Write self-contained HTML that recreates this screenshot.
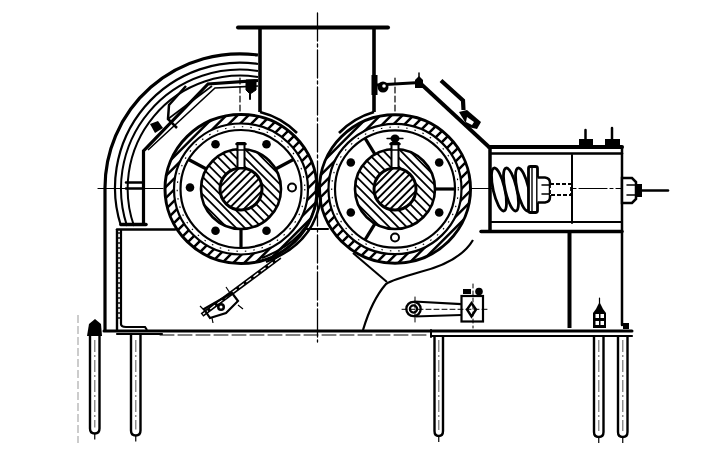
<!DOCTYPE html>
<html><head><meta charset="utf-8">
<style>
html,body{margin:0;padding:0;background:#fff;}
body{width:724px;height:472px;overflow:hidden;font-family:"Liberation Sans",sans-serif;}
svg{display:block;}
</style></head>
<body>
<svg width="724" height="472" viewBox="0 0 724 472">
<g stroke="#000" fill="none">
<g stroke="#000" fill="none">
<line x1="98" y1="188.5" x2="622" y2="188.5" stroke-width="1.2" stroke-linecap="round" stroke-dasharray="28 3 3 3"/>
<line x1="317.5" y1="13" x2="317.5" y2="342" stroke-width="1.3" stroke-linecap="round" stroke-dasharray="28 3 3 3"/>
<line x1="238" y1="27.5" x2="388" y2="27.5" stroke-width="4" stroke-linecap="round"/>
<line x1="260" y1="28" x2="260" y2="112" stroke-width="3.6" stroke-linecap="butt"/>
<line x1="374" y1="28" x2="374" y2="112" stroke-width="3.6" stroke-linecap="butt"/>
<path d="M260 112 A79.5 79.5 0 0 1 297 133" stroke-width="2.6" fill="none" />
<path d="M374 112 A79.5 79.5 0 0 0 339 133" stroke-width="2.6" fill="none" />
<path d="M105 332 L105 189 A135 134 0 0 1 258 55" stroke-width="3.2" fill="none" />
<path d="M121 226 A125 125 0 0 1 258 64" stroke-width="2.2" fill="none" />
<path d="M127 226 A119 119 0 0 1 258 71" stroke-width="2.0" fill="none" />
<path d="M134 226 A113 113 0 0 1 258 77" stroke-width="2.0" fill="none" />
<path d="M117 229 L117 332" stroke-width="2.4" fill="none" />
<line x1="119" y1="232" x2="119" y2="322" stroke-width="1.4" stroke-dasharray="2 3"/>
<path d="M121 229 L121 324 Q121 327 126 327 L145 327 L147 330" stroke-width="2.2" fill="none" />
<line x1="117" y1="334" x2="162" y2="334" stroke-width="2.2" stroke-linecap="round"/>
<line x1="117" y1="229.5" x2="175" y2="229.5" stroke-width="2.5" stroke-linecap="round"/>
</g>
<ellipse cx="241" cy="189" rx="76" ry="74.5" fill="#fff" stroke="none"/>
<clipPath id="rla"><path clip-rule="evenodd" d="M165 189a76 74.5 0 1 0 152 0a76 74.5 0 1 0 -152 0ZM174 189a67 65.5 0 1 0 134 0a67 65.5 0 1 0 -134 0Z"/></clipPath>
<path clip-path="url(#rla)" d="M87.1 188.5L240.5 35.1M92.6 194L246 40.6M98.1 199.5L251.5 46.1M103.7 205L257 51.7M109.2 210.5L262.5 57.2M114.7 216L268 62.7M120.2 221.5L273.5 68.2M125.7 227.1L279.1 73.7M131.2 232.6L284.6 79.2M136.8 238.1L290.1 84.8M142.3 243.6L295.6 90.3M147.8 249.1L301.1 95.8M153.3 254.6L306.6 101.3M158.8 260.2L312.2 106.8M164.3 265.7L317.7 112.3M169.8 271.2L323.2 117.8M175.4 276.7L328.7 123.4M180.9 282.2L334.2 128.9M186.4 287.7L339.7 134.4M191.9 293.2L345.2 139.9M197.4 298.8L350.8 145.4M202.9 304.3L356.3 150.9M208.5 309.8L361.8 156.5M214 315.3L367.3 162M219.5 320.8L372.8 167.5M225 326.3L378.3 173M230.5 331.9L383.9 178.5M236 337.4L389.4 184M241.5 342.9L394.9 189.5" stroke-width="2.5" fill="none"/>
<ellipse cx="241" cy="189" rx="76" ry="74.5" fill="none" stroke-width="3"/>
<ellipse cx="241" cy="189" rx="67" ry="65.5" fill="none" stroke-width="2.2"/>
<ellipse cx="241" cy="189" rx="60.5" ry="59.0" fill="none" stroke-width="2.2"/>
<ellipse cx="241" cy="189" rx="63.8" ry="62.3" fill="none" stroke-width="1.1" stroke-dasharray="1.5 7"/>
<circle cx="241" cy="189" r="40" fill="#fff" stroke="none"/>
<clipPath id="rlh"><circle cx="241" cy="189" r="40"/></clipPath>
<path clip-path="url(#rlh)" d="M243.4 103.7L326.3 186.6M239 108.1L321.9 191M234.7 112.5L317.5 195.3M230.3 116.9L313.1 199.7M225.9 121.3L308.7 204.1M221.5 125.7L304.3 208.5M217.1 130L300 212.9M212.7 134.4L295.6 217.3M208.4 138.8L291.2 221.6M204 143.2L286.8 226M199.6 147.6L282.4 230.4M195.2 152L278 234.8M190.8 156.4L273.6 239.2M186.4 160.7L269.3 243.6M182 165.1L264.9 248M177.7 169.5L260.5 252.3M173.3 173.9L256.1 256.7M168.9 178.3L251.7 261.1M164.5 182.7L247.3 265.5M160.1 187L243 269.9M155.7 191.4L238.6 274.3" stroke-width="1.8" fill="none"/>
<circle cx="241" cy="189" r="40" fill="none" stroke-width="2.6"/>
<circle cx="241" cy="189" r="21" fill="#fff" stroke="none"/>
<clipPath id="rls"><circle cx="241" cy="189" r="21"/></clipPath>
<path clip-path="url(#rls)" d="M195.7 188.5L240.5 143.7M199.5 192.3L244.3 147.5M203.3 196.1L248.1 151.3M207.1 200L252 155.1M210.9 203.8L255.8 158.9M214.8 207.6L259.6 162.8M218.6 211.4L263.4 166.6M222.4 215.2L267.2 170.4M226.2 219.1L271.1 174.2M230 222.9L274.9 178M233.9 226.7L278.7 181.9M237.7 230.5L282.5 185.7M241.5 234.3L286.3 189.5" stroke-width="1.9" fill="none"/>
<circle cx="241" cy="189" r="21" fill="none" stroke-width="3"/>
<rect x="237.5" y="143" width="7" height="25" fill="#fff" stroke-width="2"/>
<line x1="236.5" y1="144" x2="245.5" y2="144" stroke-width="2.5" stroke-linecap="round"/>
<line x1="236.5" y1="150" x2="245.5" y2="150" stroke-width="1.5" stroke-linecap="round"/>
<circle cx="266.5" cy="144.2" r="4.3" fill="#000" stroke="none"/>
<circle cx="215.5" cy="144.2" r="4.3" fill="#000" stroke="none"/>
<circle cx="190" cy="187.5" r="4.3" fill="#000" stroke="none"/>
<circle cx="215.5" cy="230.8" r="4.3" fill="#000" stroke="none"/>
<circle cx="266.5" cy="230.8" r="4.3" fill="#000" stroke="none"/>
<circle cx="292" cy="187.5" r="4" fill="#fff" stroke-width="2"/>
<line x1="206.4" y1="169" x2="188.6" y2="159.5" stroke-width="3.2" stroke-linecap="butt"/>
<line x1="275.6" y1="169" x2="293.4" y2="159.5" stroke-width="3.2" stroke-linecap="butt"/>
<line x1="241" y1="229" x2="241" y2="248" stroke-width="3.2" stroke-linecap="butt"/>
<ellipse cx="395" cy="189" rx="75.5" ry="74.2" fill="#fff" stroke="none"/>
<clipPath id="rra"><path clip-rule="evenodd" d="M319.5 189a75.5 74.2 0 1 0 151 0a75.5 74.2 0 1 0 -151 0ZM328.5 189a66.5 65.2 0 1 0 133 0a66.5 65.2 0 1 0 -133 0Z"/></clipPath>
<path clip-path="url(#rra)" d="M241.5 188.1L394.1 35.5M247 193.6L399.6 41M252.5 199.1L405.1 46.5M258.1 204.6L410.6 52.1M263.6 210.1L416.1 57.6M269.1 215.6L421.6 63.1M274.6 221.1L427.1 68.6M280.1 226.7L432.7 74.1M285.6 232.2L438.2 79.6M291.2 237.7L443.7 85.2M296.7 243.2L449.2 90.7M302.2 248.7L454.7 96.2M307.7 254.2L460.2 101.7M313.2 259.8L465.8 107.2M318.7 265.3L471.3 112.7M324.2 270.8L476.8 118.2M329.8 276.3L482.3 123.8M335.3 281.8L487.8 129.3M340.8 287.3L493.3 134.8M346.3 292.8L498.8 140.3M351.8 298.4L504.4 145.8M357.3 303.9L509.9 151.3M362.9 309.4L515.4 156.9M368.4 314.9L520.9 162.4M373.9 320.4L526.4 167.9M379.4 325.9L531.9 173.4M384.9 331.5L537.5 178.9M390.4 337L543 184.4M395.9 342.5L548.5 189.9" stroke-width="2.5" fill="none"/>
<ellipse cx="395" cy="189" rx="75.5" ry="74.2" fill="none" stroke-width="3"/>
<ellipse cx="395" cy="189" rx="66.5" ry="65.2" fill="none" stroke-width="2.2"/>
<ellipse cx="395" cy="189" rx="60.0" ry="58.7" fill="none" stroke-width="2.2"/>
<ellipse cx="395" cy="189" rx="63.3" ry="62.0" fill="none" stroke-width="1.1" stroke-dasharray="1.5 7"/>
<circle cx="395" cy="189" r="40" fill="#fff" stroke="none"/>
<clipPath id="rrh"><circle cx="395" cy="189" r="40"/></clipPath>
<path clip-path="url(#rrh)" d="M397.4 103.7L480.3 186.6M393 108.1L475.9 191M388.7 112.5L471.5 195.3M384.3 116.9L467.1 199.7M379.9 121.3L462.7 204.1M375.5 125.7L458.3 208.5M371.1 130L454 212.9M366.7 134.4L449.6 217.3M362.4 138.8L445.2 221.6M358 143.2L440.8 226M353.6 147.6L436.4 230.4M349.2 152L432 234.8M344.8 156.4L427.6 239.2M340.4 160.7L423.3 243.6M336 165.1L418.9 248M331.7 169.5L414.5 252.3M327.3 173.9L410.1 256.7M322.9 178.3L405.7 261.1M318.5 182.7L401.3 265.5M314.1 187L397 269.9M309.7 191.4L392.6 274.3" stroke-width="1.8" fill="none"/>
<circle cx="395" cy="189" r="40" fill="none" stroke-width="2.6"/>
<circle cx="395" cy="189" r="21" fill="#fff" stroke="none"/>
<clipPath id="rrs"><circle cx="395" cy="189" r="21"/></clipPath>
<path clip-path="url(#rrs)" d="M349.7 188.5L394.5 143.7M353.5 192.3L398.3 147.5M357.3 196.1L402.1 151.3M361.1 200L406 155.1M364.9 203.8L409.8 158.9M368.8 207.6L413.6 162.8M372.6 211.4L417.4 166.6M376.4 215.2L421.2 170.4M380.2 219.1L425.1 174.2M384 222.9L428.9 178M387.9 226.7L432.7 181.9M391.7 230.5L436.5 185.7M395.5 234.3L440.3 189.5" stroke-width="1.9" fill="none"/>
<circle cx="395" cy="189" r="21" fill="none" stroke-width="3"/>
<rect x="391.5" y="143" width="7" height="25" fill="#fff" stroke-width="2"/>
<line x1="390.5" y1="144" x2="399.5" y2="144" stroke-width="2.5" stroke-linecap="round"/>
<line x1="390.5" y1="150" x2="399.5" y2="150" stroke-width="1.5" stroke-linecap="round"/>
<circle cx="350.8" cy="162.5" r="4.3" fill="#000" stroke="none"/>
<circle cx="439.2" cy="162.5" r="4.3" fill="#000" stroke="none"/>
<circle cx="350.8" cy="212.5" r="4.3" fill="#000" stroke="none"/>
<circle cx="439.2" cy="212.5" r="4.3" fill="#000" stroke="none"/>
<circle cx="395" cy="237.5" r="4" fill="#fff" stroke-width="2"/>
<line x1="375" y1="154.4" x2="365" y2="138.2" stroke-width="3.2" stroke-linecap="butt"/>
<line x1="435" y1="189" x2="455" y2="189" stroke-width="3.2" stroke-linecap="butt"/>
<line x1="375" y1="223.6" x2="365" y2="239.8" stroke-width="3.2" stroke-linecap="butt"/>
<ellipse cx="317.5" cy="190" rx="2.8" ry="8" fill="#000" stroke="none"/>
<path d="M377 85 L420 82.5" stroke-width="3" fill="none" />
<path d="M415 88 L415 80 L419 76 L423 80 L423 88Z" fill="#000" stroke="none"/>
<line x1="419" y1="73" x2="419" y2="78" stroke-width="1.5" stroke-linecap="round"/>
<path d="M420 83 L489 147" stroke-width="3.8" fill="none" />
<circle cx="383" cy="87" r="5.5" fill="#000" stroke="none"/>
<circle cx="384" cy="86" r="1.8" fill="#fff" stroke="none"/>
<line x1="395" y1="78" x2="395" y2="111" stroke-width="1.2" stroke-linecap="round" stroke-dasharray="6 3"/>
<line x1="240" y1="78" x2="240" y2="113" stroke-width="1.2" stroke-linecap="round" stroke-dasharray="6 3"/>
<rect x="371.5" y="75" width="6" height="20" fill="#000" stroke="none"/>
<path d="M246 80 L256 80 L256 90 L250 94 L246 90Z" fill="#000" stroke-width="1"/>
<line x1="250" y1="92" x2="250" y2="99" stroke-width="2" stroke-linecap="round"/>
<path d="M441 80.5 L463 100.5 L463.5 110" stroke-width="4.2" fill="none" />
<path d="M459 112 L467 110 L481 122 L477 129 L468 127 Z" fill="#000" stroke="none"/>
<path d="M467 117 L474 122 L472 125 L466 122 Z" fill="#fff" stroke="none"/>
<path d="M143.5 226 L143.5 151 L208 84 L258 80.5" stroke-width="3.2" fill="none" />
<path d="M148 150 L215 88 L258 86" stroke-width="1.6" fill="none" />
<path d="M168 119 L212 86" stroke-width="1.6" fill="none" />
<path d="M186 86 L169 105 L168 119 L177 128" stroke-width="2.5" fill="none" />
<path d="M150 124 L158 121 L163 128 L155 133 Z" fill="#000" stroke="none"/>
<line x1="126" y1="182.5" x2="142" y2="182.5" stroke-width="2.5" stroke-linecap="round"/>
<line x1="126" y1="188.5" x2="142" y2="188.5" stroke-width="2.5" stroke-linecap="round"/>
<line x1="121" y1="224.5" x2="146" y2="224.5" stroke-width="3.5" stroke-linecap="round"/>
<line x1="489" y1="147" x2="622" y2="147" stroke-width="4" stroke-linecap="round"/>
<line x1="491" y1="153.5" x2="622" y2="153.5" stroke-width="2.6" stroke-linecap="round"/>
<line x1="490" y1="147" x2="490" y2="231" stroke-width="3.5" stroke-linecap="butt"/>
<line x1="622" y1="147" x2="622" y2="325" stroke-width="2.5" stroke-linecap="round"/>
<line x1="572" y1="155" x2="572" y2="223" stroke-width="2" stroke-linecap="round"/>
<line x1="490" y1="222" x2="622" y2="222" stroke-width="2" stroke-linecap="round"/>
<line x1="481" y1="231.5" x2="622" y2="231.5" stroke-width="3.5" stroke-linecap="round"/>
<line x1="569.5" y1="232" x2="569.5" y2="328" stroke-width="4" stroke-linecap="butt"/>
<ellipse cx="499" cy="189.5" rx="5.8" ry="22" fill="#fff" stroke-width="2.8" transform="rotate(-13 499 189.5)"/>
<ellipse cx="511" cy="189.5" rx="5.8" ry="22" fill="#fff" stroke-width="2.8" transform="rotate(-13 511 189.5)"/>
<ellipse cx="523" cy="189.5" rx="5.8" ry="22" fill="#fff" stroke-width="2.8" transform="rotate(-13 523 189.5)"/>
<rect x="528.5" y="166.5" width="9" height="46" rx="2" fill="#fff" stroke-width="2.8"/>
<line x1="532" y1="168" x2="532" y2="211" stroke-width="1.4" stroke-linecap="round"/>
<path d="M537.5 177.5 L545 177.5 Q550 178 550 183 L550 197 Q550 202 545 202.5 L537.5 202.5" fill="#fff" stroke-width="2.5"/>
<line x1="542" y1="185" x2="550" y2="185" stroke-width="1.5" stroke-linecap="round"/>
<line x1="542" y1="194" x2="550" y2="194" stroke-width="1.5" stroke-linecap="round"/>
<rect x="550" y="184" width="21" height="11" fill="#fff" stroke-width="1.8" stroke-dasharray="4 2"/>
<rect x="579" y="139" width="14" height="8" fill="#000" stroke="none"/>
<rect x="605" y="139" width="15" height="8" fill="#000" stroke="none"/>
<line x1="585.5" y1="130" x2="585.5" y2="140" stroke-width="2.5" stroke-linecap="round"/>
<line x1="612" y1="128" x2="612" y2="140" stroke-width="2.5" stroke-linecap="round"/>
<path d="M622 178 L632 178 L636 182 L636 199 L632 203 L622 203Z" fill="#fff" stroke-width="2.5"/>
<line x1="627" y1="185" x2="636" y2="185" stroke-width="1.5" stroke-linecap="round"/>
<line x1="627" y1="195" x2="636" y2="195" stroke-width="1.5" stroke-linecap="round"/>
<rect x="636" y="184" width="6" height="13" fill="#000" stroke="none"/>
<line x1="641" y1="190.5" x2="668" y2="190.5" stroke-width="2.6" stroke-linecap="round"/>
<ellipse cx="395" cy="138.5" rx="4.5" ry="4" fill="#000" stroke="none"/>
<line x1="387" y1="138.5" x2="403" y2="138.5" stroke-width="1.3" stroke-linecap="round"/>
<path d="M473 240 Q460 262 420 272 Q392 280 386 284 Q372 300 363 330" stroke-width="2.2" fill="none" />
<path d="M353 253 L387 282" stroke-width="2" fill="none" />
<circle cx="413.5" cy="309" r="7.2" fill="#fff" stroke-width="2.3"/>
<circle cx="413.5" cy="309" r="3.6" fill="#fff" stroke-width="2.3"/>
<path d="M414 301.5 L461.5 304.2 M414 316.5 L461.5 315" stroke-width="2.2" fill="none" />
<rect x="461.5" y="296" width="21.5" height="25.5" fill="#fff" stroke-width="2.2"/>
<path d="M471.5 303 L476 309.5 L471.5 316.5 L467 309.5 Z" fill="#fff" stroke-width="2.4"/>
<circle cx="479" cy="291.5" r="3.8" fill="#000" stroke="none"/>
<rect x="463" y="289" width="8" height="5" fill="#000" stroke="none"/>
<line x1="402" y1="309.3" x2="489" y2="309.3" stroke-width="1" stroke-linecap="round" stroke-dasharray="5 3"/>
<line x1="415" y1="297" x2="415" y2="322" stroke-width="1" stroke-linecap="round" stroke-dasharray="4 3"/>
<line x1="473" y1="284" x2="473" y2="328" stroke-width="1" stroke-linecap="round" stroke-dasharray="4 3"/>
<path d="M280 257 L202 315" stroke-width="4.6" fill="none" />
<path d="M280 257 L202 315" stroke="#fff" stroke-width="1.3" stroke-dasharray="6 3"/>
<path d="M204 309 L232 293 L238 301 L226 313 L210 318 Z" fill="none" stroke-width="2.2"/>
<circle cx="221" cy="307" r="4" fill="#000" stroke="none"/>
<circle cx="221" cy="307" r="1.5" fill="#fff" stroke="none"/>
<path d="M200 306 L206 312 M226 287 L230 293 M238 305 L243 309 M212 318 L213 323" stroke-width="1.2" fill="none" />
<path d="M321 198 Q314 244 266 262" stroke-width="2.4" fill="none" />
<path d="M317 200 Q309 240 262 258" stroke-width="2.0" fill="none" />
<line x1="306" y1="229" x2="328" y2="229" stroke-width="2" stroke-linecap="round"/>
<g stroke="#000" fill="none">
<line x1="104" y1="331" x2="632" y2="331" stroke-width="3" stroke-linecap="round"/>
<line x1="431" y1="336" x2="632" y2="336" stroke-width="2.2" stroke-linecap="round"/>
<line x1="431" y1="330" x2="431" y2="337" stroke-width="2" stroke-linecap="round"/>
<line x1="160" y1="335" x2="430" y2="335" stroke-width="1" stroke-linecap="round" stroke-dasharray="14 4"/>
<rect x="623" y="323" width="6" height="6" fill="#000" stroke="none"/>
<path d="M90 335 L90 428.5 Q90 433.5 94.75 433.5 Q99.5 433.5 99.5 428.5 L99.5 335" stroke-width="2.4"/>
<line x1="94.75" y1="340" x2="94.75" y2="427.5" stroke="#888" stroke-width="1.4" stroke-dasharray="12 3 2 3"/>
<line x1="94.75" y1="433.5" x2="94.75" y2="439.5" stroke-width="1.2"/>
<path d="M131 335 L131 430.5 Q131 435.5 135.75 435.5 Q140.5 435.5 140.5 430.5 L140.5 335" stroke-width="2.4"/>
<line x1="135.75" y1="340" x2="135.75" y2="429.5" stroke="#888" stroke-width="1.4" stroke-dasharray="12 3 2 3"/>
<line x1="135.75" y1="435.5" x2="135.75" y2="441.5" stroke-width="1.2"/>
<path d="M434.5 335 L434.5 431 Q434.5 436 438.75 436 Q443 436 443 431 L443 335" stroke-width="2.4"/>
<line x1="438.75" y1="340" x2="438.75" y2="430" stroke="#888" stroke-width="1.4" stroke-dasharray="12 3 2 3"/>
<line x1="438.75" y1="436" x2="438.75" y2="442" stroke-width="1.2"/>
<path d="M594 335 L594 432 Q594 437 598.75 437 Q603.5 437 603.5 432 L603.5 335" stroke-width="2.4"/>
<line x1="598.75" y1="340" x2="598.75" y2="431" stroke="#888" stroke-width="1.4" stroke-dasharray="12 3 2 3"/>
<line x1="598.75" y1="437" x2="598.75" y2="443" stroke-width="1.2"/>
<path d="M618 335 L618 432 Q618 437 622.75 437 Q627.5 437 627.5 432 L627.5 335" stroke-width="2.4"/>
<line x1="622.75" y1="340" x2="622.75" y2="431" stroke="#888" stroke-width="1.4" stroke-dasharray="12 3 2 3"/>
<line x1="622.75" y1="437" x2="622.75" y2="443" stroke-width="1.2"/>
<path d="M87 336 L89 324 L95 319 L101 324 L102 336Z" fill="#000" stroke="none"/>
<path d="M593 328 L593 313 L596 309 L603 309 L606 313 L606 328Z" fill="#000" stroke="none"/>
<rect x="595.5" y="314" width="3.5" height="4" fill="#fff" stroke="none"/>
<rect x="600.5" y="314" width="3.5" height="4" fill="#fff" stroke="none"/>
<rect x="595.5" y="321" width="3.5" height="4" fill="#fff" stroke="none"/>
<rect x="600.5" y="321" width="3.5" height="4" fill="#fff" stroke="none"/>
<path d="M596 309 L599.5 302 L603 309Z" fill="#000" stroke="none"/>
<line x1="599.5" y1="298" x2="599.5" y2="303" stroke-width="1.2" stroke-linecap="round"/>
<line x1="78" y1="315" x2="78" y2="443" stroke="#999" stroke-width="1" stroke-dasharray="8 3"/>
</g>
</g>
</svg>
</body></html>
